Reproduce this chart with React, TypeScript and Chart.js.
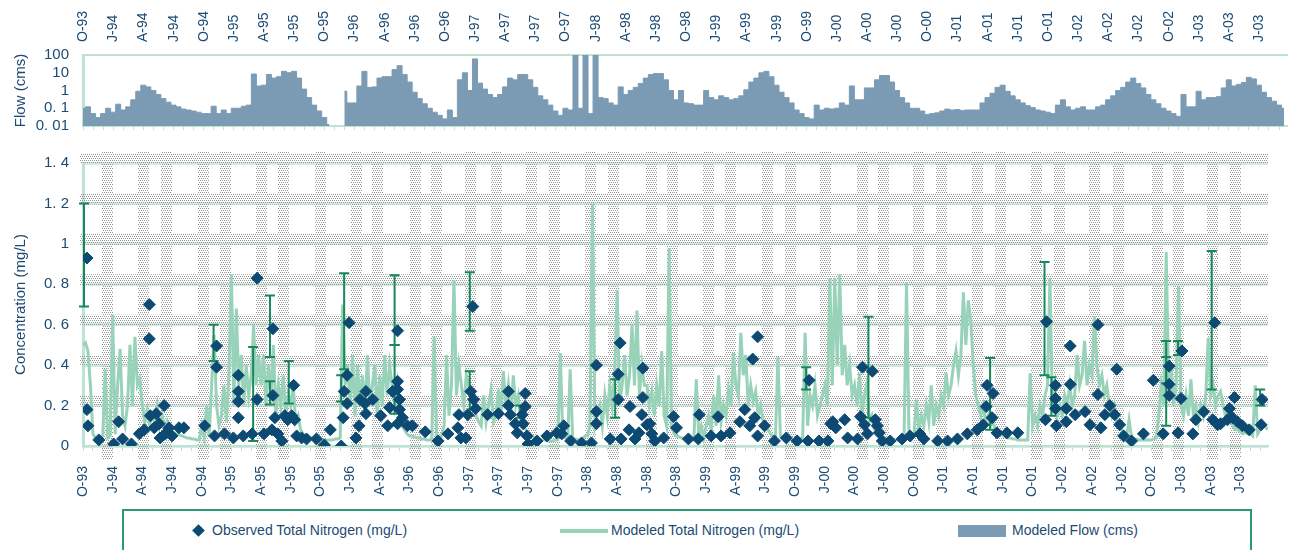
import React, { useEffect, useRef } from "react";
import { Chart, registerables } from "chart.js";

Chart.register(...registerables);

const FONT = "'Liberation Sans', Arial, Helvetica, sans-serif";
const NAVY = "#1b4b74";
const MINT = "#bfe3d3";
const MINT_GRID = "#d3ece1";
const TN_COLOR = "#98d2b8";
const FLOW_COLOR = "#7b9bb5";
const OBS_COLOR = "#0d4a73";
const ERR_COLOR = "#17885a";
const X_MAX = 119.8; // months after Oct-1993 at the right edge

// ---- axis labels ----
const quarterLabels = [
  "O-93", "J-94", "A-94", "J-94", "O-94", "J-95", "A-95", "J-95", "O-95", "J-96",
  "A-96", "J-96", "O-96", "J-97", "A-97", "J-97", "O-97", "J-98", "A-98", "J-98",
  "O-98", "J-99", "A-99", "J-99", "O-99", "J-00", "A-00", "J-00", "O-00", "J-01",
  "A-01", "J-01", "O-01", "J-02", "A-02", "J-02", "O-02", "J-03", "A-03", "J-03",
];
const monthTicks = Array.from({ length: 120 }, (_, i) => i);
const flowTickValues = [0.01, 0.1, 1, 10, 100];
const flowTickLabels = ["0. 01", "0. 1", "1", "10", "100"];
const concTickValues = [0, 0.2, 0.4, 0.6, 0.8, 1, 1.2, 1.4];
const concTickLabels = ["0", "0. 2", "0. 4", "0. 6", "0. 8", "1", "1. 2", "1. 4"];

// ---- modeled flow (cms), one value every half month from Oct-1993 ----
const FLOW_STEP = 0.5;
const flowValues = [
  0.1, 0.12, 0.05, 0.03, 0.05, 0.1, 0.06, 0.17, 0.08, 0.12, 0.3, 0.9,
  2.0, 1.6, 1.0, 0.6, 0.35, 0.22, 0.15, 0.12, 0.09, 0.08, 0.07, 0.06,
  0.05, 0.05, 0.13, 0.05, 0.08, 0.05, 0.1, 0.1, 0.13, 0.15, 8.5, 1.8,
  2.0, 8, 5, 6, 12, 10, 12, 5, 1.2, 0.4, 0.15, 0.07,
  0.03, 0.012, null, null, 0.9, 0.2, 0.2, 1.8, 12, 1.5, 1.6, 5,
  6, 6, 15, 25, 8, 3, 0.8, 0.35, 0.18, 0.1, 0.06, 0.04,
  0.025, 0.08, 0.03, 4, 10, 1.0, 60, 2.6, 1.2, 0.6, 0.4, 0.6,
  1.6, 5, 4, 8, 8, 4, 1.5, 0.5, 0.3, 0.15, 0.07, 0.04,
  0.1, 0.08, 150, 0.1, 150, 0.05, 150, 0.4, 0.35, 0.2, 0.15, 1.6,
  0.6, 1.0, 1.5, 2.5, 5, 8, 9, 9, 4, 1.0, 0.3, 1.0,
  0.2, 0.18, 0.15, 0.15, 1.0, 0.4, 0.3, 0.5, 0.4, 0.3, 0.35, 0.5,
  1.1, 3, 5, 10, 12, 6, 2, 0.8, 0.4, 0.2, 0.08, 0.05,
  0.03, 0.025, 0.15, 0.08, 0.1, 0.09, 0.1, 0.2, 0.15, 1.8, 0.3, 0.3,
  1.4, 1.4, 4, 7, 7, 3, 1.0, 0.4, 0.2, 0.1, 0.1, 0.07,
  0.045, 0.05, 0.055, 0.07, 0.09, 0.08, 0.085, 0.075, 0.08, 0.08, 0.08, 0.2,
  0.4, 0.7, 1.5, 2.0, 0.9, 0.5, 0.3, 0.2, 0.14, 0.11, 0.08, 0.07,
  0.06, 0.05, 0.15, 0.3, 0.12, 0.08, 0.1, 0.12, 0.08, 0.08, 0.12, 0.15,
  0.3, 0.5, 1.0, 1.5, 3, 5, 2.5, 1.4, 0.6, 0.3, 0.18, 0.1,
  0.07, 0.05, 0.035, 0.6, 0.12, 0.12, 0.9, 0.3, 0.4, 0.4, 0.45, 1.4,
  4, 1.8, 2.2, 2.8, 5.5, 4.5, 2, 0.8, 0.4, 0.25, 0.15, 0.1,
];

// ---- modeled total nitrogen (mg/L), one value every quarter month ----
const TN_STEP = 0.25;
const modeledTN = [
  0.5, 0.51, 0.47, 0.3, 0.06, 0.04, 0.03, 0.03, 0.05, 0.38, 0.04, 0.05,
  0.65, 0.06, 0.3, 0.48, 0.15, 0.1, 0.2, 0.5, 0.2, 0.54, 0.3, 0.33,
  0.2, 0.12, 0.18, 0.1, 0.15, 0.12, 0.2, 0.1, 0.15, 0.08, 0.12, 0.07,
  0.07, 0.065, 0.06, 0.055, 0.05, 0.045, 0.04, 0.04, 0.035, 0.035, 0.03, 0.03,
  0.1, 0.04, 0.2, 0.05, 0.3, 0.55, 0.2, 0.1, 0.15, 0.3, 0.12, 0.35,
  0.85, 0.2, 0.68, 0.3, 0.45, 0.2, 0.4, 0.25, 0.35, 0.6, 0.3, 0.45,
  0.3, 0.45, 0.2, 0.4, 0.25, 0.5, 0.15, 0.3, 0.2, 0.35, 0.15, 0.25,
  0.2, 0.3, 0.12, 0.15, 0.08, 0.06, 0.05, 0.045, 0.04, 0.04, 0.035, 0.035,
  0.03, 0.03, 0.03, 0.03, 0.03, 0.03, 0.035, 0.035, 0.04, 0.7, 0.3, 0.4,
  0.2, 0.45, 0.15, 0.4, 0.2, 0.35, 0.15, 0.45, 0.2, 0.3, 0.4, 0.15,
  0.35, 0.2, 0.45, 0.25, 0.4, 0.3, 0.2, 0.3, 0.15, 0.1, 0.08, 0.06,
  0.05, 0.05, 0.045, 0.04, 0.04, 0.035, 0.035, 0.03, 0.03, 0.03, 0.54, 0.04,
  0.03, 0.05, 0.1, 0.45, 0.15, 0.3, 0.82, 0.25, 0.4, 0.3, 0.2, 0.35,
  0.3, 0.25, 0.2, 0.15, 0.12, 0.1, 0.25, 0.12, 0.2, 0.28, 0.12, 0.15,
  0.28, 0.15, 0.37, 0.2, 0.3, 0.15, 0.35, 0.2, 0.25, 0.12, 0.15, 0.08,
  0.06, 0.05, 0.045, 0.04, 0.035, 0.03, 0.03, 0.03, 0.025, 0.025, 0.025, 0.03,
  0.03, 0.46, 0.05, 0.04, 0.035, 0.38, 0.04, 0.035, 0.03, 0.03, 0.035, 0.05,
  0.05, 0.1, 1.2, 0.1, 0.15, 0.2, 0.1, 0.25, 0.15, 0.3, 0.2, 0.35,
  0.77, 0.2, 0.3, 0.45, 0.25, 0.35, 0.6, 0.3, 0.67, 0.25, 0.4, 0.3,
  0.3, 0.2, 0.27, 0.15, 0.3, 0.2, 0.47, 0.15, 0.1, 0.98, 0.1, 0.06,
  0.05, 0.045, 0.04, 0.04, 0.035, 0.035, 0.03, 0.03, 0.33, 0.05, 0.1, 0.04,
  0.1, 0.15, 0.08, 0.25, 0.1, 0.35, 0.12, 0.2, 0.15, 0.28, 0.2, 0.46,
  0.3, 0.25, 0.56, 0.35, 0.45, 0.2, 0.3, 0.22, 0.27, 0.15, 0.2, 0.12,
  0.1, 0.08, 0.06, 0.05, 0.05, 0.44, 0.05, 0.04, 0.04, 0.035, 0.035, 0.03,
  0.03, 0.03, 0.035, 0.04, 0.56, 0.1, 0.25, 0.2, 0.3, 0.15, 0.2, 0.25,
  0.3, 0.2, 0.83, 0.3, 0.83, 0.4, 0.85, 0.35, 0.5, 0.3, 0.4, 0.25,
  0.3, 0.2, 0.36, 0.15, 0.25, 0.31, 0.12, 0.15, 0.08, 0.06, 0.05, 0.045,
  0.04, 0.04, 0.035, 0.035, 0.03, 0.03, 0.03, 0.03, 0.03, 0.81, 0.05, 0.03,
  0.05, 0.23, 0.08, 0.15, 0.1, 0.2, 0.12, 0.3, 0.1, 0.2, 0.15, 0.25,
  0.2, 0.36, 0.25, 0.3, 0.4, 0.47, 0.35, 0.45, 0.76, 0.5, 0.72, 0.62,
  0.4, 0.25, 0.2, 0.15, 0.2, 0.12, 0.15, 0.1, 0.12, 0.08, 0.07, 0.06,
  0.05, 0.045, 0.04, 0.04, 0.035, 0.035, 0.03, 0.03, 0.03, 0.03, 0.03, 0.36,
  0.1, 0.15, 0.1, 0.2, 0.15, 0.25, 0.3, 0.83, 0.2, 0.3, 0.15, 0.2,
  0.15, 0.25, 0.2, 0.3, 0.2, 0.25, 0.45, 0.3, 0.35, 0.52, 0.3, 0.4,
  0.35, 0.64, 0.4, 0.3, 0.35, 0.25, 0.3, 0.2, 0.15, 0.2, 0.12, 0.1,
  0.08, 0.06, 0.05, 0.13, 0.04, 0.035, 0.035, 0.03, 0.03, 0.03, 0.03, 0.03,
  0.03, 0.035, 0.04, 0.15, 0.3, 0.2, 0.96, 0.3, 0.4, 0.2, 0.3, 0.79,
  0.2, 0.15, 0.25, 0.15, 0.33, 0.15, 0.2, 0.12, 0.2, 0.15, 0.25, 0.535,
  0.25, 0.3, 0.2, 0.25, 0.27, 0.2, 0.15, 0.18, 0.12, 0.1, 0.08, 0.08,
  0.07, 0.06, 0.07, 0.06, 0.06, 0.05, 0.3, 0.06, 0.08, 0.12, 0.1, 0.08,
];

// ---- observed total nitrogen: sample time (months after Oct-1993) and value ----
const obsMonth = [
  0.4, 0.4, 0.5, 1.6, 3.1, 3.6, 4.0, 4.9, 5.7, 6.2, 6.7, 6.7, 6.8, 7.2, 7.4, 7.7, 7.8, 8.2, 8.3, 8.7,
  9.0, 9.7, 10.2, 12.3, 13.3, 13.5, 13.5, 14.3, 15.2, 15.7, 15.7, 15.7, 15.7, 16.2, 17.1, 17.6, 17.6, 18.3, 19.1, 19.2,
  19.2, 19.4, 19.7, 20.1, 20.4, 20.7, 21.1, 21.3, 21.4, 21.6, 22.1, 22.6, 23.6, 24.4, 25.0, 26.1, 26.3, 26.4, 26.7, 26.7,
  26.9, 27.6, 27.9, 28.0, 28.5, 28.6, 28.6, 29.3, 30.1, 30.8, 31.0, 31.3, 31.8, 31.8, 31.8, 32.0, 32.0, 32.3, 31.8, 32.8,
  33.3, 34.6, 35.9, 36.9, 37.9, 38.0, 38.2, 38.7, 38.9, 39.2, 39.4, 39.5, 39.7, 40.9, 42.0, 43.0, 43.0, 43.2, 43.7, 43.9,
  44.4, 44.5, 44.7, 44.7, 44.9, 45.0, 45.9, 46.9, 47.9, 48.4, 48.6, 49.3, 50.4, 51.4, 51.9, 51.9, 51.9, 53.3, 54.1, 54.3,
  54.1, 54.4, 55.2, 55.3, 55.8, 56.2, 56.5, 56.6, 56.6, 57.0, 57.3, 57.5, 57.8, 58.7, 59.7, 60.0, 61.2, 62.2, 62.3, 63.5,
  64.2, 64.5, 65.4, 66.4, 66.9, 67.4, 67.7, 68.2, 67.9, 68.2, 68.9, 69.9, 71.1, 72.2, 73.3, 73.4, 74.4, 75.3, 75.6, 75.8,
  76.1, 77.0, 77.3, 78.3, 78.6, 78.8, 79.0, 79.3, 79.8, 80.1, 80.3, 80.5, 80.8, 81.6, 82.8, 83.6, 84.6, 85.0, 86.4, 87.4,
  88.4, 89.4, 90.4, 91.0, 91.3, 91.4, 91.9, 92.0, 92.4, 93.4, 94.5, 97.3, 97.4, 98.3, 98.3, 98.3, 98.4, 99.4, 99.4, 99.8,
  99.8, 100.3, 101.3, 101.8, 102.6, 102.6, 102.9, 103.3, 103.8, 104.3, 104.5, 104.8, 105.2, 106.0, 107.2, 108.2, 109.2, 109.8, 109.8, 109.8,
  110.7, 111.0, 111.1, 112.2, 112.5, 113.3, 114.2, 114.4, 114.7, 115.0, 115.7, 115.9, 116.2, 116.4, 116.7, 117.2, 117.9, 119.1, 119.2,
];
const obsTN = [
  0.93, 0.18, 0.1, 0.03, 0.01, 0.12, 0.035, 0.01, 0.06, 0.08, 0.53, 0.7, 0.15, 0.09, 0.16, 0.11, 0.04, 0.2, 0.06, 0.09,
  0.05, 0.09, 0.09, 0.1, 0.05, 0.495, 0.39, 0.06, 0.04, 0.35, 0.27, 0.22, 0.14, 0.05, 0.06, 0.83, 0.23, 0.06, 0.08, 0.58,
  0.25, 0.14, 0.06, 0.025, 0.15, 0.13, 0.15, 0.3, 0.13, 0.05, 0.04, 0.035, 0.035, 0.005, 0.08, 0.0, 0.14, 0.27, 0.21, 0.35,
  0.61, 0.04, 0.1, 0.23, 0.21, 0.27, 0.16, 0.23, 0.15, 0.1, 0.19, 0.27, 0.57, 0.32, 0.28, 0.23, 0.18, 0.14, 0.11, 0.1,
  0.1, 0.07, 0.025, 0.06, 0.09, 0.155, 0.04, 0.04, 0.155, 0.27, 0.69, 0.23, 0.185, 0.155, 0.16, 0.27, 0.2, 0.155, 0.11, 0.065,
  0.155, 0.11, 0.26, 0.195, 0.05, 0.01, 0.025, 0.05, 0.065, 0.06, 0.1, 0.025, 0.015, 0.015, 0.4, 0.17, 0.11, 0.035, 0.355, 0.51,
  0.23, 0.035, 0.08, 0.195, 0.035, 0.065, 0.155, 0.385, 0.24, 0.105, 0.11, 0.06, 0.025, 0.04, 0.145, 0.09, 0.035, 0.035, 0.155, 0.05,
  0.145, 0.05, 0.065, 0.12, 0.18, 0.1, 0.43, 0.54, 0.14, 0.05, 0.1, 0.025, 0.04, 0.025, 0.025, 0.325, 0.025, 0.025, 0.11, 0.12,
  0.09, 0.13, 0.04, 0.035, 0.145, 0.39, 0.105, 0.06, 0.37, 0.13, 0.1, 0.065, 0.025, 0.025, 0.035, 0.05, 0.06, 0.035, 0.025, 0.025,
  0.035, 0.06, 0.08, 0.105, 0.195, 0.3, 0.14, 0.26, 0.065, 0.065, 0.065, 0.13, 0.615, 0.3, 0.235, 0.185, 0.1, 0.185, 0.12, 0.495,
  0.305, 0.155, 0.17, 0.105, 0.6, 0.255, 0.09, 0.155, 0.2, 0.155, 0.38, 0.105, 0.05, 0.025, 0.06, 0.325, 0.06, 0.395, 0.305, 0.25,
  0.065, 0.235, 0.47, 0.06, 0.13, 0.17, 0.13, 0.61, 0.105, 0.11, 0.13, 0.185, 0.14, 0.24, 0.12, 0.1, 0.08, 0.105, 0.23,
];

// ---- error bars on observed values ----
const errMonth = [0.1, 13.2, 17.2, 18.9, 18.9, 20.8, 26.4, 26.1, 31.5, 31.5, 39.1, 39.1, 44.2, 53.8, 73.1, 79.4, 91.7, 97.2, 97.9, 109.5, 109.5, 110.7, 114.1, 119.0];
const errLow = [0.69, 0.42, 0.025, 0.44, 0.205, 0.21, 0.38, 0.22, 0.5, 0.16, 0.57, 0.15, 0.14, 0.14, 0.28, 0.14, 0.08, 0.35, 0.15, 0.31, 0.1, 0.45, 0.28, 0.2];
const errHigh = [1.2, 0.6, 0.49, 0.745, 0.32, 0.42, 0.855, 0.35, 0.845, 0.5, 0.86, 0.37, 0.2, 0.33, 0.39, 0.64, 0.435, 0.91, 0.34, 0.52, 0.44, 0.52, 0.965, 0.28];

// ---- hatched (dotted) vertical bands, months after Oct-1993 ----
const shadeBandMonths = [
  2.5, 6.1, 8.4, 12.2, 14.4, 18.0, 20.3, 24.0, 27.6, 29.8, 33.6, 35.7, 39.2, 41.8, 45.3, 47.7,
  51.3, 53.6, 57.5, 59.6, 63.2, 65.5, 69.2, 71.5, 75.1, 78.8, 80.9, 84.5, 86.8, 90.4, 92.8,
  96.4, 98.7, 102.3, 104.7, 108.6, 110.7, 114.2, 116.5,
];

function makeDotPattern(ctx: CanvasRenderingContext2D) {
  const c = document.createElement("canvas");
  c.width = 4;
  c.height = 4;
  const g = c.getContext("2d")!;
  g.fillStyle = "#959595";
  [[0, 0], [2, 0], [1, 2], [3, 2]].forEach(([px, py]) => g.fillRect(px, py, 1, 1));
  return ctx.createPattern(c, "repeat");
}

const bandPlugin = {
  id: "dotBands",
  beforeDatasetsDraw(chart: any) {
    const { ctx, chartArea: a, scales } = chart;
    const x = scales.x;
    const y = scales.y;
    const pat = makeDotPattern(ctx);
    if (!pat) return;
    ctx.save();
    ctx.fillStyle = pat;
    concTickValues.forEach((v) => {
      if (v === 0) return;
      const py = y.getPixelForValue(v);
      ctx.fillRect(a.left - 3, py - 10, a.right - a.left + 3, 11);
    });
    shadeBandMonths.forEach((m) => {
      const px = x.getPixelForValue(m);
      ctx.fillRect(Math.round(px - 5.5), a.top - 12, 11, a.bottom - a.top + 25);
    });
    ctx.restore();
  },
};

const errorBarPlugin = {
  id: "errorBars",
  beforeDatasetDraw(chart: any, args: any) {
    if (args.index !== 1) return;
    const { ctx, scales } = chart;
    const x = scales.x;
    const y = scales.y;
    ctx.save();
    ctx.strokeStyle = ERR_COLOR;
    ctx.lineWidth = 2;
    errMonth.forEach((m, i) => {
      const px = x.getPixelForValue(m);
      const y1 = y.getPixelForValue(errLow[i]);
      const y2 = y.getPixelForValue(errHigh[i]);
      ctx.beginPath();
      ctx.moveTo(px, y1);
      ctx.lineTo(px, y2);
      ctx.moveTo(px - 5, y1);
      ctx.lineTo(px + 5, y1);
      ctx.moveTo(px - 5, y2);
      ctx.lineTo(px + 5, y2);
      ctx.stroke();
    });
    ctx.restore();
  },
};

const setMonthTicks = (s: any) => {
  s.ticks = monthTicks.map((v) => ({ value: v }));
};
const quarterLabel = (v: any) => (Number(v) % 3 === 0 ? quarterLabels[Number(v) / 3] : "");

const FLOW_CANVAS_H = 149;

export default function App() {
  const flowRef = useRef<HTMLCanvasElement>(null);
  const concRef = useRef<HTMLCanvasElement>(null);

  useEffect(() => {
    const flowChart = new Chart(flowRef.current!, {
      type: "line",
      data: {
        datasets: [
          {
            label: "Modeled Flow (cms)",
            data: flowValues.map((v, i) => ({ x: i * FLOW_STEP, y: v })) as any,
            stepped: "middle",
            fill: "start",
            backgroundColor: FLOW_COLOR,
            borderColor: FLOW_COLOR,
            borderWidth: 1,
            pointRadius: 0,
            spanGaps: false,
          },
        ],
      },
      options: {
        responsive: false,
        animation: false,
        devicePixelRatio: 1,
        events: [],
        layout: { padding: 0, autoPadding: false },
        plugins: { legend: { display: false }, tooltip: { enabled: false } },
        scales: {
          x: {
            type: "linear",
            position: "top",
            min: 0,
            max: X_MAX,
            afterBuildTicks: setMonthTicks,
            afterFit: (s: any) => {
              s.height = 55;
            },
            ticks: {
              autoSkip: false,
              maxRotation: 90,
              minRotation: 90,
              padding: 13,
              labelOffset: 17,
              color: NAVY,
              font: { family: FONT, size: 14 },
              callback: quarterLabel,
            },
            grid: { display: false, drawTicks: false },
            border: { display: true, color: MINT, width: 2 },
          },
          x2: {
            type: "linear",
            position: "bottom",
            min: 0,
            max: X_MAX,
            afterBuildTicks: setMonthTicks,
            afterFit: (s: any) => {
              s.height = 5;
            },
            ticks: { display: false },
            grid: { drawOnChartArea: false, drawTicks: true, tickLength: 4, color: MINT },
            border: { display: true, color: MINT, width: 2 },
          },
          y: {
            type: "logarithmic",
            min: 0.01,
            max: 100,
            afterBuildTicks: (s: any) => {
              s.ticks = flowTickValues.map((v) => ({ value: v }));
            },
            afterFit: (s: any) => {
              s.width = 83;
            },
            ticks: {
              autoSkip: false,
              callback: (_v: any, i: number) => flowTickLabels[i],
              color: NAVY,
              font: { family: FONT, size: 15 },
              padding: 14,
            },
            grid: { display: false, drawTicks: false },
            border: { display: true, color: MINT, width: 3 },
            title: {
              display: true,
              text: "Flow (cms)",
              color: NAVY,
              font: { family: FONT, size: 15 },
              padding: { top: 12, bottom: 0 },
            },
          },
        },
      },
    } as any);

    const concChart = new Chart(concRef.current!, {
      type: "line",
      data: {
        datasets: [
          {
            label: "Modeled Total Nitrogen (mg/L)",
            data: modeledTN.map((v, i) => ({ x: i * TN_STEP, y: v })) as any,
            borderColor: TN_COLOR,
            backgroundColor: TN_COLOR,
            borderWidth: 3,
            pointRadius: 0,
            fill: false,
            order: 2,
          },
          {
            label: "Observed Total Nitrogen (mg/L)",
            data: obsMonth.map((m, i) => ({ x: m, y: obsTN[i] })) as any,
            showLine: false,
            pointStyle: "rectRot",
            pointRadius: 6,
            pointBackgroundColor: OBS_COLOR,
            pointBorderColor: OBS_COLOR,
            pointBorderWidth: 1,
            order: 1,
          },
        ],
      },
      options: {
        responsive: false,
        animation: false,
        devicePixelRatio: 1,
        events: [],
        layout: { padding: { top: 17, left: 0, right: 0, bottom: 0 } },
        plugins: { legend: { display: false }, tooltip: { enabled: false } },
        scales: {
          x: {
            type: "linear",
            position: "bottom",
            min: 0,
            max: X_MAX,
            afterBuildTicks: setMonthTicks,
            afterFit: (s: any) => {
              s.height = 59;
            },
            ticks: {
              autoSkip: false,
              maxRotation: 90,
              minRotation: 90,
              padding: 15,
              color: NAVY,
              font: { family: FONT, size: 14 },
              callback: quarterLabel,
            },
            grid: { drawOnChartArea: false, drawTicks: true, tickLength: 5, color: MINT },
            border: { display: true, color: MINT, width: 2 },
          },
          y: {
            type: "linear",
            min: 0,
            max: 1.4,
            afterBuildTicks: (s: any) => {
              s.ticks = concTickValues.map((v) => ({ value: v }));
            },
            afterFit: (s: any) => {
              s.width = 83;
            },
            ticks: {
              autoSkip: false,
              callback: (_v: any, i: number) => concTickLabels[i],
              color: NAVY,
              font: { family: FONT, size: 15 },
              padding: 14,
            },
            grid: { color: MINT_GRID, lineWidth: 3, drawTicks: false },
            border: { display: true, color: MINT, width: 3 },
            title: {
              display: true,
              text: "Concentration (mg/L)",
              color: NAVY,
              font: { family: FONT, size: 15 },
              padding: { top: 12, bottom: 0 },
            },
          },
        },
      },
      plugins: [bandPlugin, errorBarPlugin],
    } as any);

    return () => {
      flowChart.destroy();
      concChart.destroy();
    };
  }, []);

  const legendText: React.CSSProperties = {
    position: "absolute",
    top: 11,
    fontFamily: FONT,
    fontSize: 14,
    color: NAVY,
    whiteSpace: "nowrap",
  };

  return (
    <div
      style={{
        position: "absolute",
        left: 0,
        top: 0,
        width: 1292,
        height: 550,
        overflow: "hidden",
        background: "#fff",
      }}
    >
      <canvas
        ref={flowRef}
        width={1292}
        height={FLOW_CANVAS_H}
        style={{ position: "absolute", left: 0, top: 0, width: 1292, height: FLOW_CANVAS_H }}
      />
      <canvas
        ref={concRef}
        width={1292}
        height={365}
        style={{ position: "absolute", left: 0, top: 140, width: 1292, height: 365 }}
      />
      <div
        style={{
          position: "absolute",
          left: 122,
          top: 509,
          width: 1126,
          height: 50,
          borderTop: "2px solid #2a9b6f",
          borderLeft: "2px solid #2a9b6f",
          borderRight: "2px solid #2a9b6f",
        }}
      >
        <div
          style={{
            position: "absolute",
            left: 70,
            top: 15,
            width: 9,
            height: 9,
            background: OBS_COLOR,
            transform: "rotate(45deg)",
          }}
        />
        <div style={{ ...legendText, left: 88 }}>Observed Total Nitrogen (mg/L)</div>
        <div style={{ position: "absolute", left: 436, top: 18, width: 48, height: 4, background: TN_COLOR }} />
        <div style={{ ...legendText, left: 487 }}>Modeled Total Nitrogen (mg/L)</div>
        <div style={{ position: "absolute", left: 834, top: 14, width: 48, height: 12, background: FLOW_COLOR }} />
        <div style={{ ...legendText, left: 888 }}>Modeled Flow (cms)</div>
      </div>
    </div>
  );
}
